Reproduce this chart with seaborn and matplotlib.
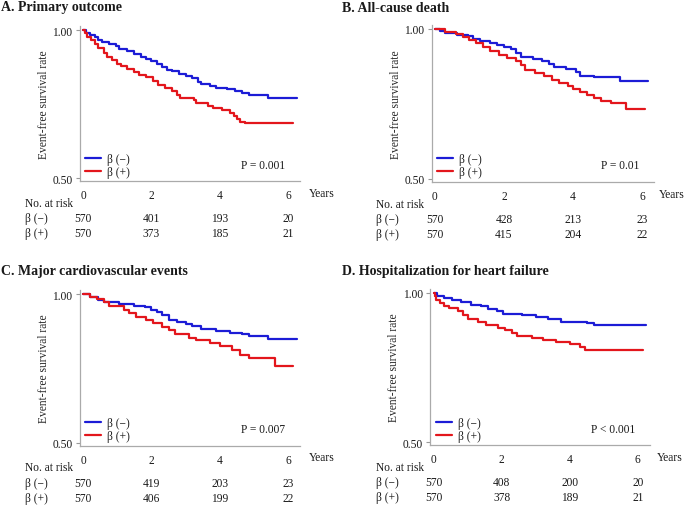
import numpy as np
import pandas as pd
import seaborn as sns
from matplotlib import pyplot as plt

# Kaplan-Meier curves: (time in years, event-free survival)
a_neg_t = [0, 0.1, 0.2, 0.35, 0.45, 0.55, 0.75, 0.95, 1.05, 1.3, 1.5, 1.7, 1.85, 2.0, 2.15, 2.3, 2.45, 2.6, 2.8,
           3.0, 3.2, 3.35, 3.45, 3.7, 3.9, 4.2, 4.45, 4.65, 4.85, 5.42, 6.25]
a_neg_s = [1.0, 0.99, 0.982, 0.975, 0.965, 0.958, 0.952, 0.945, 0.935, 0.928, 0.92, 0.91, 0.902, 0.895, 0.885,
           0.876, 0.866, 0.86, 0.853, 0.846, 0.838, 0.826, 0.818, 0.812, 0.805, 0.8, 0.795, 0.788, 0.78, 0.77, 0.77]
a_pos_t = [0, 0.05, 0.12, 0.22, 0.35, 0.45, 0.6, 0.7, 0.85, 1.0, 1.1, 1.3, 1.5, 1.65, 1.85, 2.05, 2.2, 2.4, 2.6,
           2.75, 2.85, 3.25, 3.3, 3.65, 3.8, 4.05, 4.3, 4.4, 4.5, 4.6, 4.75, 6.15]
a_pos_s = [1.0, 0.99, 0.978, 0.965, 0.952, 0.94, 0.922, 0.91, 0.898, 0.885, 0.878, 0.868, 0.858, 0.848, 0.84,
           0.828, 0.815, 0.805, 0.795, 0.782, 0.77, 0.762, 0.752, 0.745, 0.736, 0.73, 0.72, 0.71, 0.70, 0.69,
           0.685, 0.685]

b_neg_t = [0, 0.15, 0.3, 0.65, 0.95, 1.1, 1.3, 1.6, 1.8, 2.0, 2.2, 2.35, 2.5, 2.85, 3.1, 3.3, 3.45, 3.8, 4.1,
           4.2, 4.6, 5.35, 6.18]
b_neg_s = [1.0, 0.992, 0.985, 0.98, 0.975, 0.966, 0.96, 0.953, 0.946, 0.94, 0.932, 0.92, 0.905, 0.9, 0.893,
           0.882, 0.874, 0.866, 0.855, 0.843, 0.838, 0.825, 0.825]
b_pos_t = [0, 0.3, 0.6, 0.8, 1.0, 1.2, 1.4, 1.6, 1.85, 2.1, 2.35, 2.5, 2.62, 2.9, 3.15, 3.4, 3.6, 3.85, 4.0,
           4.2, 4.4, 4.6, 4.8, 5.1, 5.55, 6.09]
b_pos_s = [1.0, 0.99, 0.982, 0.973, 0.962, 0.952, 0.94, 0.925, 0.912, 0.902, 0.893, 0.88, 0.862, 0.852, 0.843,
           0.83, 0.82, 0.81, 0.798, 0.79, 0.778, 0.768, 0.76, 0.751, 0.732, 0.732]

c_neg_t = [0, 0.2, 0.45, 0.6, 1.05, 1.5, 1.8, 2.0, 2.15, 2.3, 2.5, 2.75, 3.0, 3.2, 3.45, 3.9, 4.3, 4.65, 4.85,
           5.42, 6.25]
c_neg_s = [1.0, 0.99, 0.98, 0.974, 0.966, 0.96, 0.956, 0.948, 0.938, 0.928, 0.914, 0.906, 0.9, 0.892, 0.882,
           0.876, 0.869, 0.864, 0.86, 0.85, 0.85]
c_pos_t = [0, 0.2, 0.4, 0.6, 0.75, 1.2, 1.35, 1.55, 1.85, 2.05, 2.3, 2.5, 2.7, 3.1, 3.3, 3.7, 4.0, 4.35, 4.6,
           4.85, 5.6, 5.62, 6.15]
c_pos_s = [1.0, 0.99, 0.982, 0.972, 0.96, 0.948, 0.935, 0.922, 0.912, 0.902, 0.89, 0.878, 0.864, 0.852, 0.844,
           0.834, 0.825, 0.81, 0.795, 0.783, 0.779, 0.759, 0.759]

d_neg_t = [0, 0.1, 0.3, 0.55, 0.8, 1.1, 1.4, 1.6, 1.85, 2.05, 2.6, 3.0, 3.35, 3.75, 4.5, 4.7, 6.25]
d_neg_s = [1.0, 0.99, 0.984, 0.977, 0.97, 0.961, 0.955, 0.946, 0.938, 0.93, 0.926, 0.92, 0.914, 0.904, 0.9,
           0.893, 0.893]
d_pos_t = [0, 0.03, 0.08, 0.18, 0.3, 0.45, 0.7, 0.85, 1.0, 1.3, 1.55, 1.9, 2.1, 2.3, 2.45, 2.9, 3.2, 3.6, 4.0,
           4.3, 4.45, 6.15]
d_pos_s = [1.0, 0.99, 0.978, 0.965, 0.955, 0.948, 0.938, 0.925, 0.913, 0.903, 0.893, 0.884, 0.876, 0.865, 0.857,
           0.85, 0.843, 0.834, 0.828, 0.82, 0.81, 0.81]

titles = ["A. Primary outcome", "B. All-cause death", "C. Major cardiovascular events",
          "D. Hospitalization for heart failure"]
p_values = ["P = 0.001", "P = 0.01", "P = 0.007", "P < 0.001"]
risk_times = [0, 2, 4, 6]
risk_neg = [[570, 401, 193, 20], [570, 428, 213, 23], [570, 419, 203, 23], [570, 408, 200, 20]]
risk_pos = [[570, 373, 185, 21], [570, 415, 204, 22], [570, 406, 199, 22], [570, 378, 189, 21]]
groups = ["β (−)", "β (+)"]

curves = [((a_neg_t, a_neg_s), (a_pos_t, a_pos_s)),
          ((b_neg_t, b_neg_s), (b_pos_t, b_pos_s)),
          ((c_neg_t, c_neg_s), (c_pos_t, c_pos_s)),
          ((d_neg_t, d_neg_s), (d_pos_t, d_pos_s))]

sns.set_style("white")
plt.rcParams['font.family'] = ['Liberation Serif', 'DejaVu Serif']
plt.rcParams['text.color'] = '#1a1a1a'

W, H = 685, 506
fig = plt.figure(figsize=(W / 100, H / 100), dpi=100)

# axes boxes in pixels: left, top, width, bottom
boxes = [(79.6, 27.2, 220.6, 182.0), (431.5, 26.1, 222.5, 182.5),
         (79.6, 291.2, 220.6, 446.5), (430.3, 290.1, 219.3, 446.0)]
title_pos = [(1, 8), (342, 8), (1, 272), (342, 272)]
years_x = [6.6, 6.5, 6.6, 6.55]
palette = {groups[0]: "#1c1cd6", groups[1]: "#e3161c"}
fs = 8.3

for i in range(4):
    left, top, width, bottom = boxes[i]
    ax = fig.add_axes([left / W, (H - bottom) / H, width / W, (bottom - top) / H])
    (nt, ns), (pt, ps) = curves[i]
    df = pd.DataFrame({
        "time": list(nt) + list(pt),
        "surv": list(ns) + list(ps),
        "group": [groups[0]] * len(nt) + [groups[1]] * len(pt),
    })
    sns.lineplot(data=df, x="time", y="surv", hue="group", palette=palette, estimator=None,
                 drawstyle="steps-post", linewidth=1.6, ax=ax)
    ax.set_xlim(-0.1, 6.35)
    ax.set_ylim(0.49, 1.013)
    ax.set_xticks([0, 2, 4, 6])
    ax.set_yticks([0.5, 1.0])
    ax.set_yticklabels(["0.50", "1.00"])
    ax.tick_params(axis="x", length=0, pad=6, labelsize=fs, colors="#1a1a1a")
    ax.tick_params(axis="y", length=3, width=0.8, color="#999999", pad=2, labelsize=fs, labelcolor="#1a1a1a")
    ax.tick_params(axis="y", left=True)
    for side in ["top", "right"]:
        ax.spines[side].set_visible(False)
    for side in ["left", "bottom"]:
        ax.spines[side].set_color("#aaaaaa")
        ax.spines[side].set_linewidth(0.9)
    ax.set_xlabel("")
    ax.set_ylabel("Event-free survival rate", fontsize=fs, labelpad=2)

    ax.legend(loc="lower left", bbox_to_anchor=(0.025, 0.02), borderaxespad=0, borderpad=0,
              frameon=False, fontsize=fs, handlelength=1.4, handletextpad=0.5, labelspacing=0.1)
    ax.text(5.92, 0.545, p_values[i], ha="right", va="center", fontsize=fs)

    tr = ax.get_xaxis_transform()
    h_px = bottom - top
    ax.text(years_x[i], -12 / h_px, "Years", transform=tr, ha="left", va="center", fontsize=fs)
    ax.text(-1.70, -22 / h_px, "No. at risk", transform=tr, ha="left", va="center", fontsize=fs)
    ax.text(-1.70, -37.3 / h_px, groups[0], transform=tr, ha="left", va="center", fontsize=fs)
    ax.text(-1.70, -52.3 / h_px, groups[1], transform=tr, ha="left", va="center", fontsize=fs)
    for t, n1, n2 in zip(risk_times, risk_neg[i], risk_pos[i]):
        ax.text(t, -37.3 / h_px, str(n1), transform=tr, ha="center", va="center", fontsize=fs)
        ax.text(t, -52.3 / h_px, str(n2), transform=tr, ha="center", va="center", fontsize=fs)

    tx, ty = title_pos[i]
    fig.text(tx / W, 1 - ty / H, titles[i], ha="left", va="center", fontsize=10, fontweight="bold")

fig.savefig("out.png", dpi=100)
